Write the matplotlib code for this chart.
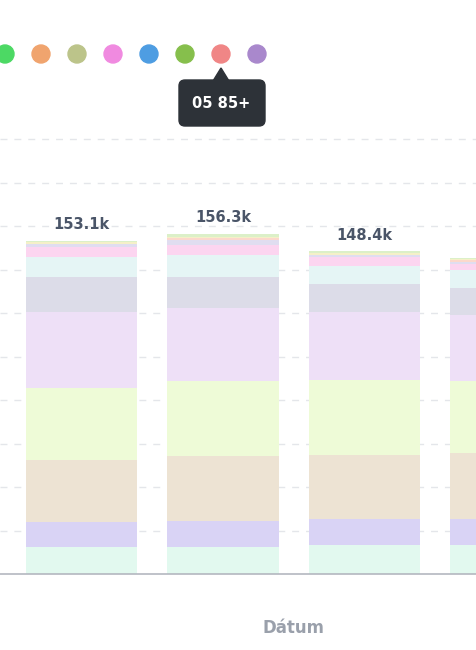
import matplotlib
matplotlib.use("Agg")
import matplotlib.pyplot as plt
from matplotlib.patches import FancyBboxPatch, Polygon, Circle
import numpy as np

totals = [153.1, 156.3, 148.4, 145.3]
labels = ["153.1k", "156.3k", "148.4k"]
seg_colors = ["#e2f9ef", "#d9d3f5", "#ede3d3", "#eefbd7", "#eee0f7", "#dcdce8",
              "#e5f5f5", "#fcd5f0", "#e0ddf0", "#fcd8cc", "#f5f0c8", "#dcf0c8"]
series = [
    [12.4, 12.4, 13.3, 13.3],
    [11.5, 12.0, 12.0, 12.0],
    [28.5, 30.0, 29.4, 30.3],
    [33.1, 34.5, 34.5, 33.1],
    [35.0, 33.6, 31.3, 30.3],
    [16.1, 14.3, 12.9, 12.4],
    [9.2, 9.7, 8.3, 8.3],
    [4.6, 4.8, 4.1, 2.8],
    [1.2, 2.1, 1.0, 1.0],
    [0.0, 1.0, 0.0, 0.7],
    [0.9, 0.8, 0.7, 0.6],
    [0.6, 1.1, 0.9, 0.5],
]
legend_colors = ["#4cd964", "#f0a46e", "#bcc48a", "#f08ae0", "#4e9de2",
                 "#86bf4c", "#f08686", "#a988cc"]
tooltip_text = "05 85+"
xlabel = "Dátum"

fig = plt.figure(figsize=(4.76, 6.5), dpi=100)
ax = fig.add_axes([0, (650 - 574) / 650, 1, (574 - 137) / 650])
x = np.arange(len(totals))
bottom = np.zeros(len(totals))
for vals, c in zip(series, seg_colors):
    ax.bar(x, vals, bottom=bottom, width=0.785, color=c, zorder=2)
    bottom += np.array(vals)
for xi, t, l in zip(x, totals, labels):
    ax.text(xi, t + 4, l, ha="center", va="bottom", fontsize=10.5,
            fontweight="bold", color="#4a5568", zorder=3)
ax.set_xlim(-0.576, 2.788)
ax.set_ylim(0, 201)
ax.set_yticks(np.arange(20, 201, 20))
ax.yaxis.grid(True, linestyle=(0, (5, 5)), color="#e4e6ea", linewidth=1, zorder=0)
ax.set_xticks([])
ax.tick_params(left=False, labelleft=False)
for s in ["top", "right", "left"]:
    ax.spines[s].set_visible(False)
ax.spines["bottom"].set_color("#b4b8c0")
ax.spines["bottom"].set_linewidth(1.2)

ov = fig.add_axes([0, 0, 1, 1], facecolor="none")
ov.set_xlim(0, 476)
ov.set_ylim(650, 0)
ov.axis("off")
for i, c in enumerate(legend_colors):
    ov.add_patch(Circle((5 + 36 * i, 54), 9, color=c))
ov.add_patch(FancyBboxPatch((179, 80), 86, 46, boxstyle="round,pad=0,rounding_size=6",
                            color="#2d3238"))
ov.add_patch(Polygon([[213, 81], [221, 68], [229, 81]], closed=True, color="#2d3238"))
ov.text(221, 103, tooltip_text, ha="center", va="center", color="white",
        fontsize=10.5, fontweight="bold")
ov.text(293, 628, xlabel, ha="center", va="center", color="#9aa0ab",
        fontsize=12, fontweight="bold")
fig.savefig("out.png", dpi=100)
